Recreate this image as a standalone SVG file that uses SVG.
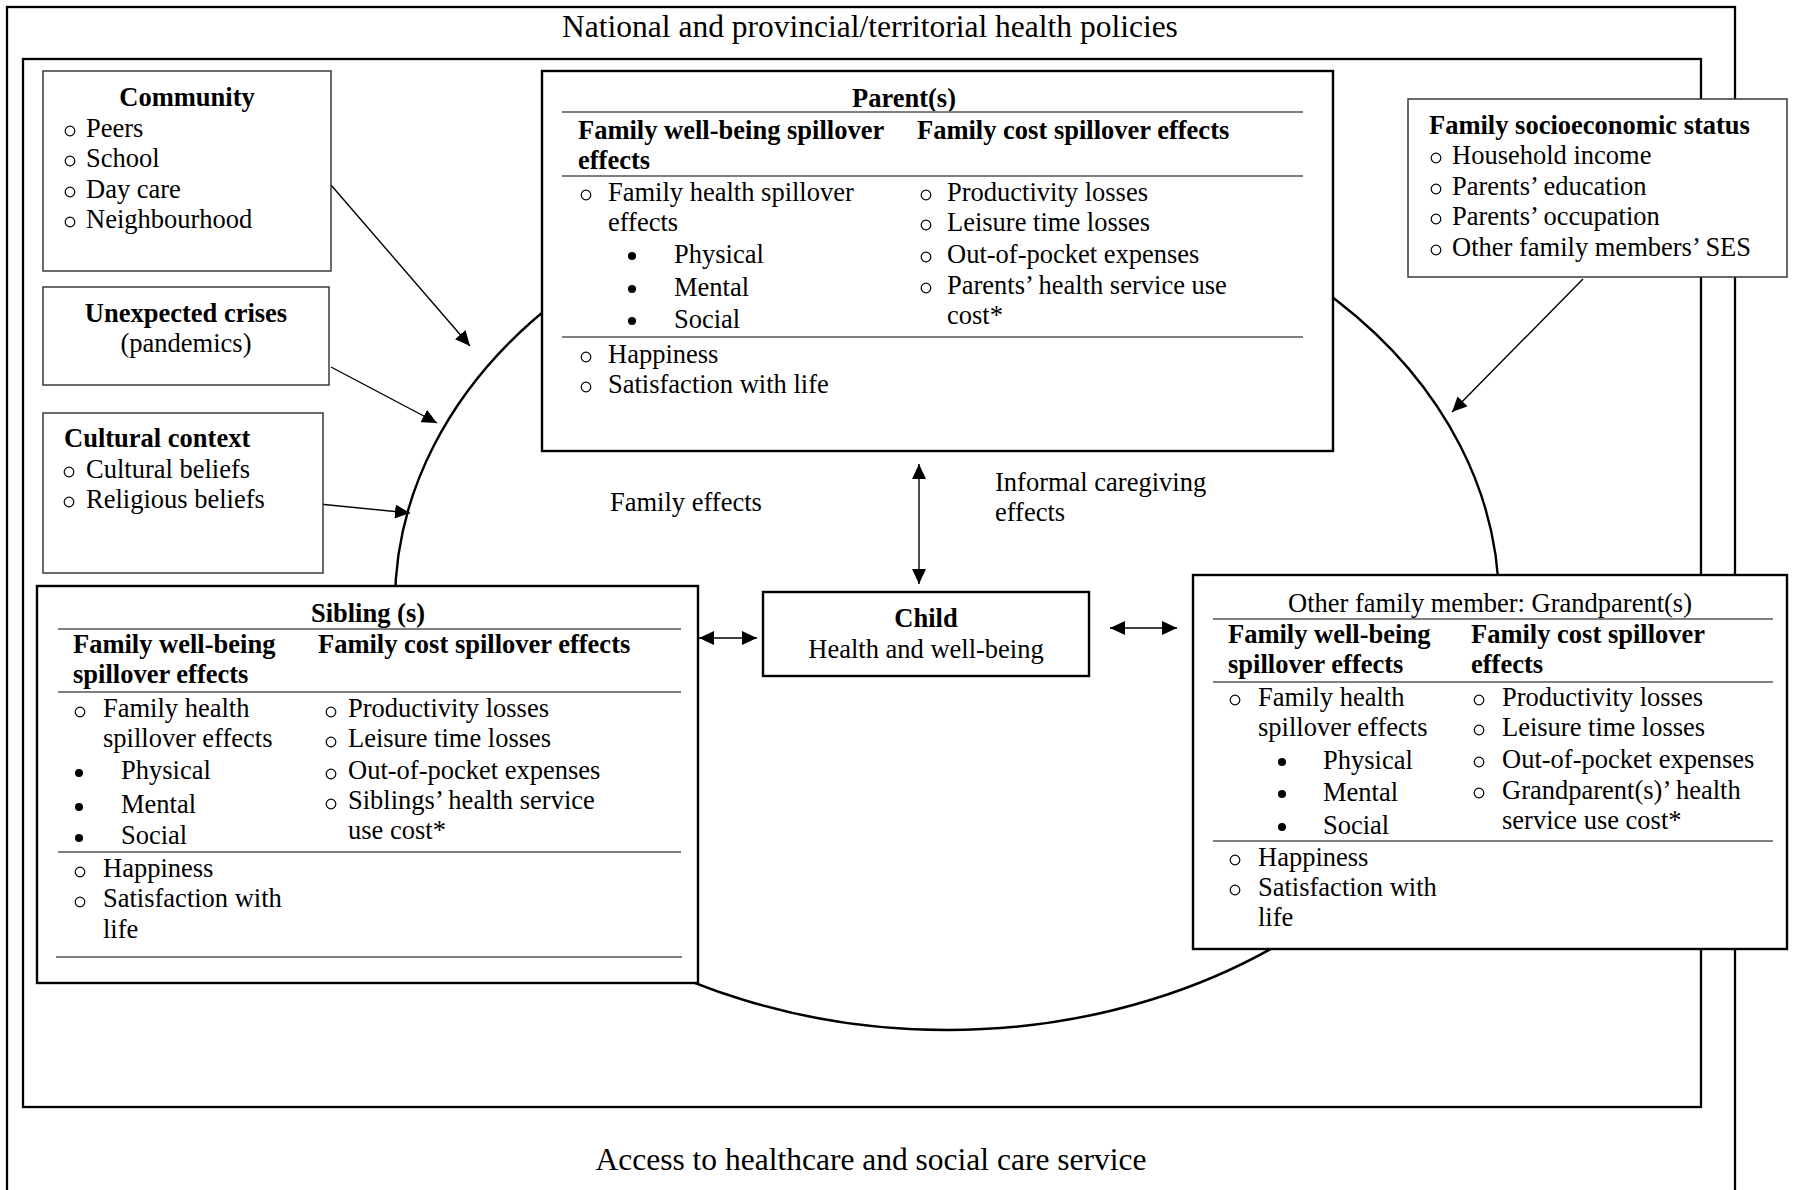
<svg xmlns="http://www.w3.org/2000/svg" xmlns:xlink="http://www.w3.org/1999/xlink" width="1794" height="1190" viewBox="0 0 1794 1190">
<style>
text{font-family:"Liberation Serif","Times New Roman",serif;font-size:26.5px;fill:#000}
.b{font-weight:bold}
.m{text-anchor:middle}
.big{font-size:31.5px}
.frame{fill:none;stroke:#000;stroke-width:2.3}
.box{fill:#fff;stroke:#000;stroke-width:2.4}
.sbox{fill:#fff;stroke:#3a3a3a;stroke-width:1.5}
.sep{stroke:#808080;stroke-width:2}
.conn{stroke:#000;stroke-width:1.4;fill:none}
.ring{fill:none;stroke:#000;stroke-width:2.4}
</style>
<defs>
<circle id="ob" r="4.8" fill="none" stroke="#000" stroke-width="1.2"/>
<circle id="fb" r="4" fill="#000"/>
<marker id="ah" markerUnits="userSpaceOnUse" markerWidth="16" markerHeight="14" refX="15" refY="7" orient="auto-start-reverse">
<path d="M0,0 L15,7 L0,14 z" fill="#000"/>
</marker>
</defs>
<rect width="1794" height="1190" fill="#fff"/>

<g id="frames">
<rect class="frame" x="7" y="7" width="1728" height="1200"/>
<rect class="frame" x="23" y="59" width="1678" height="1048"/>
<text class="big m" x="870" y="37">National and provincial/territorial health policies</text>
<text class="big m" x="871" y="1170">Access to healthcare and social care service</text>
</g>

<ellipse id="family-circle" class="ring" cx="947" cy="603" rx="552" ry="427"/>

<g id="connectors">
<line class="conn" x1="331" y1="185" x2="470" y2="346" marker-end="url(#ah)"/>
<line class="conn" x1="331" y1="367" x2="437" y2="423" marker-end="url(#ah)"/>
<line class="conn" x1="319" y1="504" x2="410" y2="513" marker-end="url(#ah)"/>
<line class="conn" x1="1583" y1="279" x2="1452" y2="412" marker-end="url(#ah)"/>
<line class="conn" x1="919" y1="464" x2="919" y2="584" marker-start="url(#ah)" marker-end="url(#ah)"/>
<line class="conn" x1="699" y1="638" x2="757" y2="638" marker-start="url(#ah)" marker-end="url(#ah)"/>
<line class="conn" x1="1110" y1="628" x2="1177" y2="628" marker-start="url(#ah)" marker-end="url(#ah)"/>
<text x="610" y="511">Family effects</text>
<text x="995" y="491">Informal caregiving</text>
<text x="995" y="521">effects</text>
</g>

<g id="community">
<rect class="sbox" x="43" y="71" width="288" height="200"/>
<text class="b m" x="187" y="106">Community</text>
<use xlink:href="#ob" x="70" y="131"/><text x="86" y="137">Peers</text>
<use xlink:href="#ob" x="70" y="161"/><text x="86" y="167">School</text>
<use xlink:href="#ob" x="70" y="192"/><text x="86" y="198">Day care</text>
<use xlink:href="#ob" x="70" y="222"/><text x="86" y="228">Neighbourhood</text>
</g>

<g id="crises">
<rect class="sbox" x="43" y="287" width="286" height="98"/>
<text class="b m" x="186" y="322">Unexpected crises</text>
<text class="m" x="186" y="352">(pandemics)</text>
</g>

<g id="culture">
<rect class="sbox" x="43" y="413" width="280" height="160"/>
<text class="b" x="64" y="447">Cultural context</text>
<use xlink:href="#ob" x="69" y="472"/><text x="86" y="478">Cultural beliefs</text>
<use xlink:href="#ob" x="69" y="502"/><text x="86" y="508">Religious beliefs</text>
</g>

<g id="ses">
<rect class="sbox" x="1408" y="99" width="379" height="178"/>
<text class="b" x="1429" y="134">Family socioeconomic status</text>
<use xlink:href="#ob" x="1436" y="158"/><text x="1452" y="164">Household income</text>
<use xlink:href="#ob" x="1436" y="189"/><text x="1452" y="195">Parents’ education</text>
<use xlink:href="#ob" x="1436" y="219"/><text x="1452" y="225">Parents’ occupation</text>
<use xlink:href="#ob" x="1436" y="250"/><text x="1452" y="256">Other family members’ SES</text>
</g>

<g id="parents">
<rect class="box" x="542" y="71" width="791" height="380"/>
<text class="b m" x="904" y="107">Parent(s)</text>
<line class="sep" x1="562" y1="112" x2="1303" y2="112"/>
<text class="b" x="578" y="139">Family well-being spillover</text>
<text class="b" x="578" y="169">effects</text>
<text class="b" x="917" y="139">Family cost spillover effects</text>
<line class="sep" x1="562" y1="176" x2="1303" y2="176"/>
<use xlink:href="#ob" x="586" y="195"/><text x="608" y="201">Family health spillover</text>
<text x="608" y="231">effects</text>
<use xlink:href="#fb" x="632" y="256"/><text x="674" y="263">Physical</text>
<use xlink:href="#fb" x="632" y="289"/><text x="674" y="296">Mental</text>
<use xlink:href="#fb" x="632" y="321"/><text x="674" y="328">Social</text>
<use xlink:href="#ob" x="926" y="195"/><text x="947" y="201">Productivity losses</text>
<use xlink:href="#ob" x="926" y="225"/><text x="947" y="231">Leisure time losses</text>
<use xlink:href="#ob" x="926" y="257"/><text x="947" y="263">Out-of-pocket expenses</text>
<use xlink:href="#ob" x="926" y="288"/><text x="947" y="294">Parents’ health service use</text>
<text x="947" y="324">cost*</text>
<line class="sep" x1="562" y1="337" x2="1303" y2="337"/>
<use xlink:href="#ob" x="586" y="357"/><text x="608" y="363">Happiness</text>
<use xlink:href="#ob" x="586" y="387"/><text x="608" y="393">Satisfaction with life</text>
</g>

<g id="siblings">
<rect class="box" x="37" y="586" width="661" height="397"/>
<text class="b m" x="368" y="622">Sibling (s)</text>
<line class="sep" x1="58" y1="629" x2="681" y2="629"/>
<text class="b" x="73" y="653">Family well-being</text>
<text class="b" x="73" y="683">spillover effects</text>
<text class="b" x="318" y="653">Family cost spillover effects</text>
<line class="sep" x1="58" y1="692" x2="681" y2="692"/>
<use xlink:href="#ob" x="80" y="712"/><text x="103" y="717">Family health</text>
<text x="103" y="747">spillover effects</text>
<use xlink:href="#fb" x="79" y="773"/><text x="121" y="779">Physical</text>
<use xlink:href="#fb" x="79" y="807"/><text x="121" y="813">Mental</text>
<use xlink:href="#fb" x="79" y="838"/><text x="121" y="844">Social</text>
<use xlink:href="#ob" x="331" y="712"/><text x="348" y="717">Productivity losses</text>
<use xlink:href="#ob" x="331" y="742"/><text x="348" y="747">Leisure time losses</text>
<use xlink:href="#ob" x="331" y="774"/><text x="348" y="779">Out-of-pocket expenses</text>
<use xlink:href="#ob" x="331" y="804"/><text x="348" y="809">Siblings’ health service</text>
<text x="348" y="839">use cost*</text>
<line class="sep" x1="58" y1="852" x2="681" y2="852"/>
<use xlink:href="#ob" x="80" y="872"/><text x="103" y="877">Happiness</text>
<use xlink:href="#ob" x="80" y="902"/><text x="103" y="907">Satisfaction with</text>
<text x="103" y="938">life</text>
<line class="sep" x1="56" y1="957" x2="682" y2="957"/>
</g>

<g id="child">
<rect class="box" x="763" y="592" width="326" height="84"/>
<text class="b m" x="926" y="627">Child</text>
<text class="m" x="926" y="658">Health and well-being</text>
</g>

<g id="grandparents">
<rect class="box" x="1193" y="575" width="594" height="374"/>
<text class="m" x="1490" y="612">Other family member: Grandparent(s)</text>
<line class="sep" x1="1213" y1="619" x2="1773" y2="619"/>
<text class="b" x="1228" y="643">Family well-being</text>
<text class="b" x="1228" y="673">spillover effects</text>
<text class="b" x="1471" y="643">Family cost spillover</text>
<text class="b" x="1471" y="673">effects</text>
<line class="sep" x1="1213" y1="682" x2="1773" y2="682"/>
<use xlink:href="#ob" x="1235" y="700"/><text x="1258" y="706">Family health</text>
<text x="1258" y="736">spillover effects</text>
<use xlink:href="#fb" x="1282" y="762"/><text x="1323" y="769">Physical</text>
<use xlink:href="#fb" x="1282" y="794"/><text x="1323" y="801">Mental</text>
<use xlink:href="#fb" x="1282" y="827"/><text x="1323" y="834">Social</text>
<use xlink:href="#ob" x="1479" y="700"/><text x="1502" y="706">Productivity losses</text>
<use xlink:href="#ob" x="1479" y="730"/><text x="1502" y="736">Leisure time losses</text>
<use xlink:href="#ob" x="1479" y="762"/><text x="1502" y="768">Out-of-pocket expenses</text>
<use xlink:href="#ob" x="1479" y="793"/><text x="1502" y="799">Grandparent(s)’ health</text>
<text x="1502" y="829">service use cost*</text>
<line class="sep" x1="1213" y1="841" x2="1773" y2="841"/>
<use xlink:href="#ob" x="1235" y="860"/><text x="1258" y="866">Happiness</text>
<use xlink:href="#ob" x="1235" y="890"/><text x="1258" y="896">Satisfaction with</text>
<text x="1258" y="926">life</text>
</g>
</svg>
